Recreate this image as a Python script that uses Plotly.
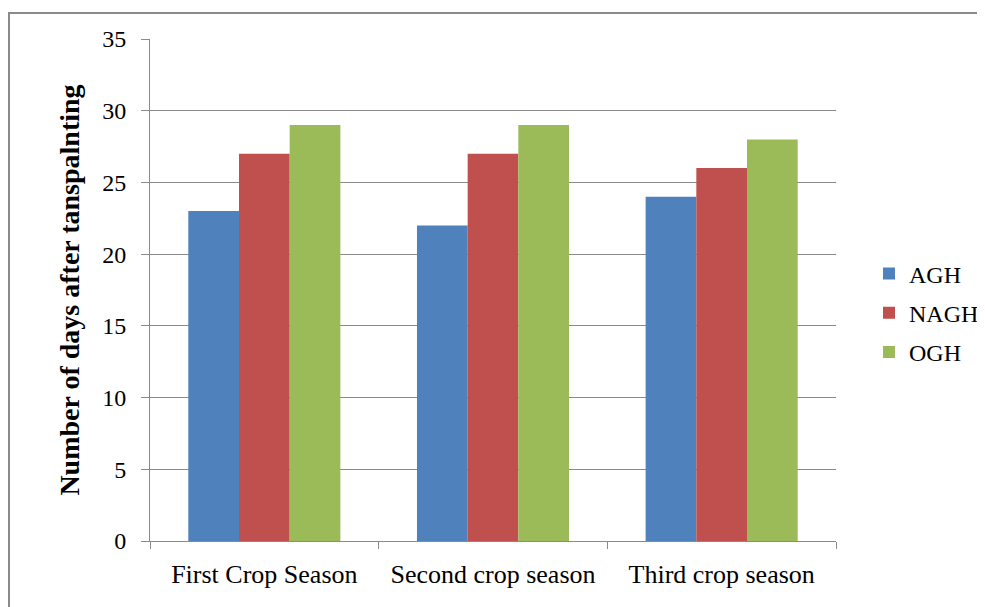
import plotly.graph_objects as go

categories = ["First Crop Season", "Second crop season", "Third crop season"]
series_names = ["AGH", "NAGH", "OGH"]
agh = [23, 22, 24]
nagh = [27, 27, 26]
ogh = [29, 29, 28]
colors = ["#4F81BD", "#C0504D", "#9BBB59"]
y_ticks = [0, 5, 10, 15, 20, 25, 30, 35]

# page body has an 8px margin; plot area on page: x 150..836, y 39..541
OFF = 8
W, H = 985 - OFF, 607 - OFF
L, R, T, B = 150 - OFF, 985 - 836, 39 - OFF, 607 - 541
pw, ph = 836 - 150, 541 - 39

fig = go.Figure()
for name, vals, c in zip(series_names, [agh, nagh, ogh], colors):
    fig.add_trace(go.Bar(x=categories, y=vals, name=name, marker_color=c,
                         marker_line_width=0, legendgroup=name))

ff = "Liberation Serif, Times New Roman, serif"
grid = "#8a8a8a"
fig.update_layout(
    width=W, height=H,
    margin=dict(l=L, r=R, t=T, b=B, autoexpand=False),
    paper_bgcolor="white", plot_bgcolor="white",
    barmode="group", bargap=0.335, bargroupgap=0,
    font=dict(family=ff, size=22, color="black"),
    legend=dict(x=(869 - 150) / pw, y=(541 - 313) / ph, xanchor="left", yanchor="middle",
                font=dict(size=24, family=ff), tracegroupgap=5,
                itemwidth=30, bgcolor="rgba(0,0,0,0)"),
    showlegend=True,
)
fig.update_xaxes(showline=True, linecolor=grid, linewidth=1,
                 ticks="outside", tickson="boundaries", ticklen=7, tickcolor=grid,
                 tickfont=dict(size=26, family=ff), showgrid=False, ticklabelstandoff=10)
fig.update_yaxes(range=[0, 35], tickvals=y_ticks, showline=True, linecolor=grid,
                 linewidth=1, ticks="outside", ticklen=8, tickcolor=grid,
                 showgrid=True, gridcolor=grid, gridwidth=1, zeroline=False,
                 tickfont=dict(size=24, family=ff), ticklabelstandoff=10,
                 title=dict(text="<b>Number of days after tanspalnting</b>",
                            font=dict(size=28, family=ff), standoff=14))

# outer chart border
fig.add_shape(type="rect", xref="paper", yref="paper",
              x0=(9 - 150) / pw, x1=(1000 - 150) / pw,
              y0=(541 - 640) / ph, y1=(541 - 13) / ph,
              line=dict(color=grid, width=2), fillcolor="rgba(0,0,0,0)", layer="below")

fig.write_html("out.html")
